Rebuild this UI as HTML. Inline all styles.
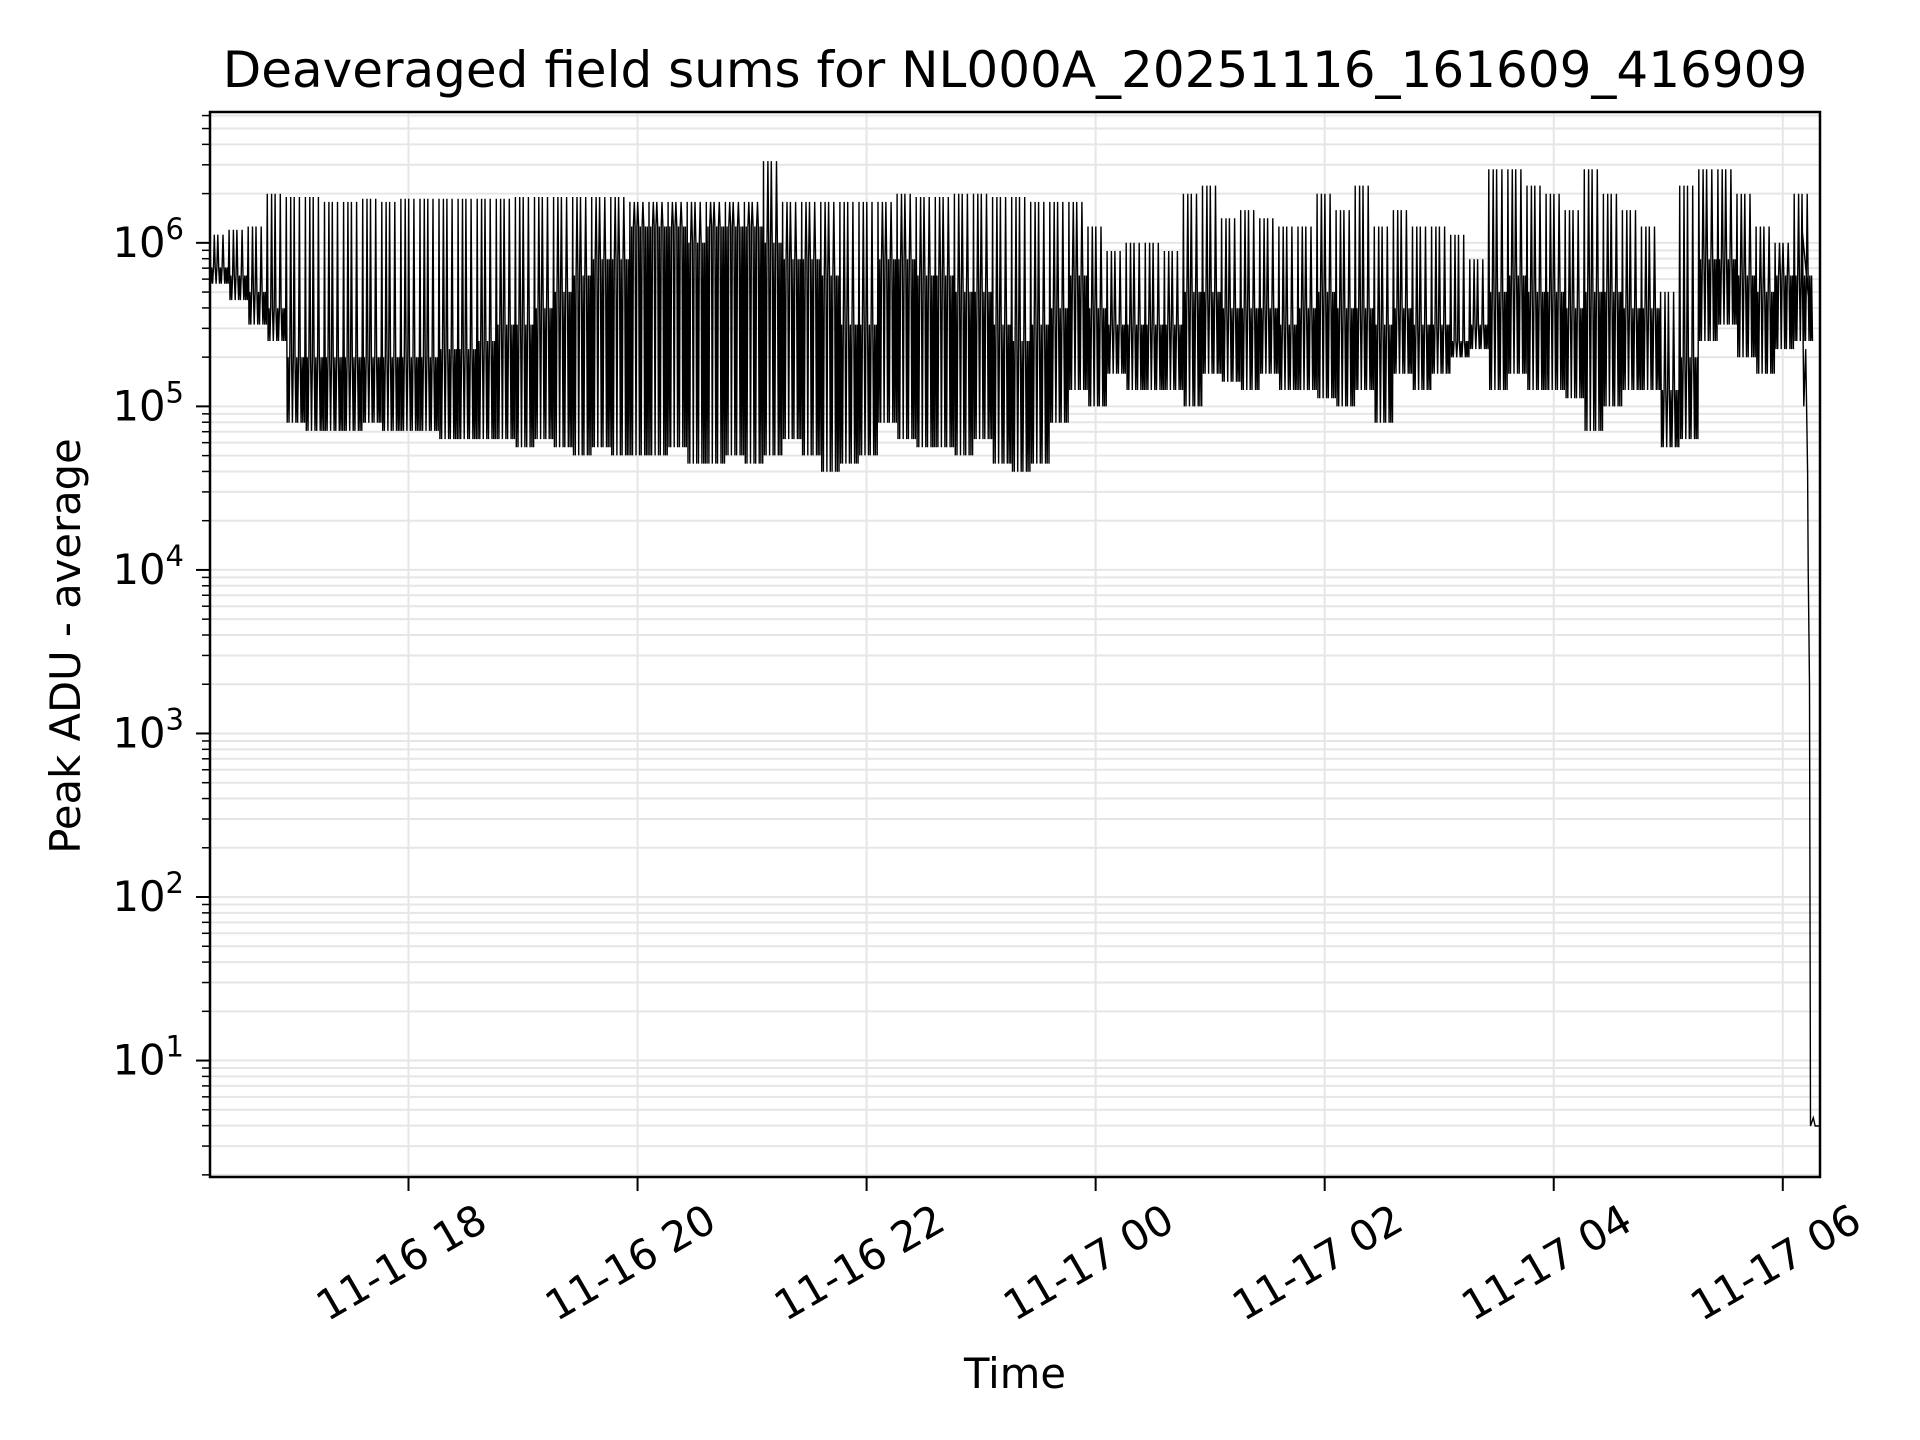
<!DOCTYPE html>
<html><head><meta charset="utf-8"><style>
html,body{margin:0;padding:0;background:#fff;}
svg{display:block;font-family:"DejaVu Sans","Liberation Sans",sans-serif;}
</style></head><body>
<svg id="chart" width="1920" height="1440" viewBox="0 0 1920 1440">
<text x="1015" y="87" font-size="50" text-anchor="middle">Deaveraged field sums for NL000A_20251116_161609_416909</text>
<text transform="translate(80,646) rotate(-90)" font-size="41.7" text-anchor="middle">Peak ADU - average</text>
<text x="1015" y="1388" font-size="41.7" text-anchor="middle">Time</text>
<g id="grid"></g><g id="series"></g><g id="axes"></g>
</svg>
<script>
// ---- data (log10 of Peak ADU - average), 10-minute bins starting 16:16 ----
const binStartMin = 16*60+16;
const binHigh = [6.05,6.08,6.1,6.3,6.28,6.28,6.25,6.25,6.27,6.25,
 6.27,6.27,6.27,6.27,6.27,6.27,6.28,6.28,6.28,6.28,6.28,6.28,
 6.25,6.25,6.25,6.25,6.25,6.25,6.25,6.5,6.25,6.25,6.25,6.25,
 6.25,6.25,6.3,6.28,6.28,6.3,6.3,6.28,6.28,6.25,6.25,6.25,
 6.1,5.95,6.0,6.0,5.95,6.3,6.35,6.15,6.2,6.15,6.1,6.1,
 6.3,6.2,6.35,6.1,6.2,6.1,6.1,6.05,5.9,6.45,6.45,6.35,
 6.3,6.2,6.45,6.3,6.2,6.1,5.7,6.35,6.45,6.45,6.3,6.1,6.0,6.3];
const binCore = [5.85,5.8,5.7,5.6,5.3,5.3,5.3,5.3,5.3,5.3,
 5.3,5.3,5.35,5.35,5.4,5.5,5.5,5.6,5.7,5.8,5.9,5.9,
 6.1,6.1,6.1,6.0,6.1,6.1,6.1,6.0,5.9,5.9,5.8,5.5,
 5.5,5.9,5.9,5.8,5.8,5.7,5.7,5.5,5.4,5.5,5.6,5.8,
 5.6,5.5,5.5,5.5,5.5,5.7,5.7,5.6,5.6,5.6,5.5,5.6,
 5.7,5.6,5.6,5.5,5.6,5.5,5.5,5.4,5.5,5.7,5.8,5.7,
 5.7,5.6,5.7,5.7,5.6,5.6,5.1,5.3,5.9,5.9,5.8,5.7,5.8,5.8];
const binLow = [5.75,5.65,5.5,5.4,4.9,4.85,4.85,4.85,4.9,4.85,
 4.85,4.85,4.8,4.8,4.8,4.8,4.75,4.8,4.75,4.7,4.75,4.7,
 4.7,4.7,4.75,4.65,4.65,4.7,4.65,4.7,4.8,4.7,4.6,4.65,
 4.7,4.9,4.8,4.75,4.75,4.7,4.8,4.65,4.6,4.65,4.9,5.1,
 5.0,5.2,5.1,5.1,5.1,5.0,5.2,5.15,5.1,5.2,5.1,5.1,
 5.05,5.0,5.1,4.9,5.2,5.1,5.2,5.3,5.35,5.1,5.2,5.1,
 5.1,5.05,4.85,5.0,5.1,5.1,4.75,4.8,5.4,5.5,5.3,5.2,5.35,5.4];
const tailMin = [6*60+10+1440, 6*60+11+1440, 6*60+12+1440, 6*60+13+1440, 6*60+13.3+1440, 6*60+14+1440, 6*60+14.5+1440, 6*60+16+1440, 6*60+17+1440, 6*60+19+1440];
const tailVal = [6.1,5.0,5.35,4.6,4.0,3.3,0.6,0.65,0.6,0.6];
const xTickMin = [18*60,20*60,22*60,24*60,26*60,28*60,30*60];
const xTickLabels = ["11-16 18","11-16 20","11-16 22","11-17 00","11-17 02","11-17 04","11-17 06"];
const yTickExp = [1,2,3,4,5,6];

// ---- axes ----
const L=210,R=1820,T=112,B=1177;
const xMin=16*60+16, xMax=30*60+19.5;
const yMin=0.288, yMax=6.80;
const sx=m=>L+(m-xMin)/(xMax-xMin)*(R-L);
const sy=v=>B-(v-yMin)/(yMax-yMin)*(B-T);
const NS="http://www.w3.org/2000/svg";
function mk(tag,attrs,parent){const e=document.createElementNS(NS,tag);for(const k in attrs)e.setAttribute(k,attrs[k]);parent.appendChild(e);return e;}
const grid=document.getElementById('grid'),axes=document.getElementById('axes'),series=document.getElementById('series');

for(let d=0;d<=6;d++){for(let k=1;k<=9;k++){const v=d+Math.log10(k);if(v<yMin||v>yMax)continue;
 const y=sy(v);
 const g=mk('line',{x1:L,x2:R,y1:y,y2:y,stroke:'#e6e6e6','stroke-width':2},grid);
 
 
 const t=mk('line',{x1:L,x2:L-(k===1?14:8),y1:y,y2:y,stroke:'#000','stroke-width':k===1?2:1.5},axes);
 
 
}}
yTickExp.forEach(e=>{const y=sy(e);
 const t=mk('text',{x:L-26,y:y+14,'font-size':41.7,'text-anchor':'end'},axes);
 
 
 t.appendChild(document.createTextNode('10'));
 const s=mk('tspan',{dy:-18,'font-size':29},t);s.textContent=String(e);
});
xTickMin.forEach((m,i)=>{const x=sx(m);
 const g=mk('line',{x1:x,x2:x,y1:T,y2:B,stroke:'#e6e6e6','stroke-width':2},grid);
 
 
 const t=mk('line',{x1:x,x2:x,y1:B,y2:B+14,stroke:'#000','stroke-width':2},axes);
 
 
 const lb=mk('text',{transform:`translate(${x},${B+98}) rotate(-30)`,'font-size':41.7,'text-anchor':'middle'},axes);
 
 
 lb.textContent=xTickLabels[i];
});
const frame=mk('rect',{x:L,y:T,width:R-L,height:B-T,fill:'none',stroke:'#000','stroke-width':2.5},axes);



// ---- series ----
let pts=[];
const steps=22, spikeAt=[0,5,9,15];
binHigh.forEach((h,i)=>{const lo=binLow[i], c=binCore[i];
 for(let j=0;j<steps;j++){const m=binStartMin+i*10+j*10/steps;
  let v;
  if(spikeAt.includes(j)) v=h; else v=(j%2===0)?c:lo;
  pts.push(sx(m).toFixed(1)+','+sy(v).toFixed(1));
 }});
tailMin.forEach((m,i)=>pts.push(sx(m).toFixed(1)+','+sy(tailVal[i]).toFixed(1)));
const line=mk('polyline',{points:pts.join(' '),fill:'none',stroke:'#000','stroke-width':1.4,'stroke-linejoin':'miter'},series);


</script>
</body></html>
